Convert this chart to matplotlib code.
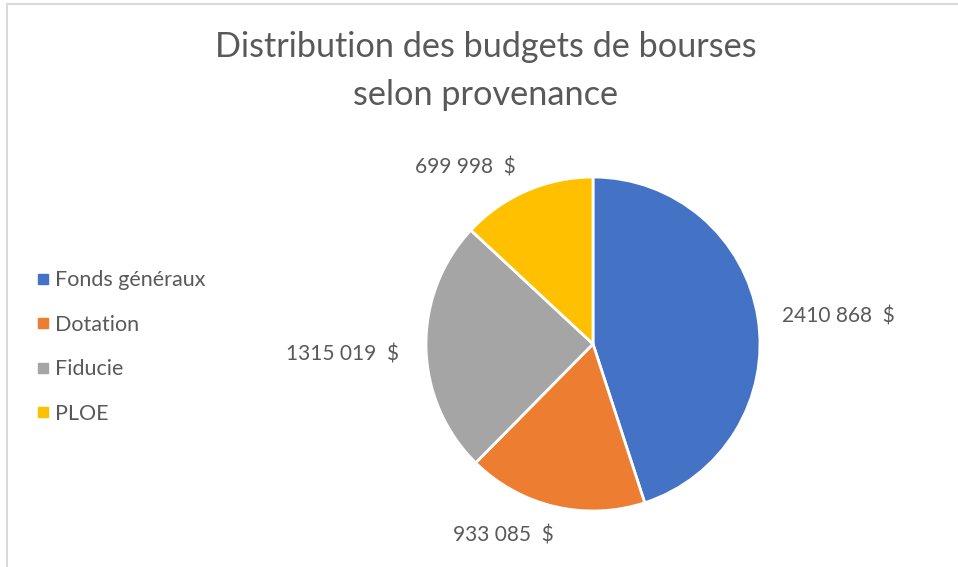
import matplotlib
matplotlib.use("Agg")
import matplotlib.pyplot as plt
from matplotlib.lines import Line2D
import numpy as np

categories = ["Fonds généraux", "Dotation", "Fiducie", "PLOE"]
values = [2410868, 933085, 1315019, 699998]
colors = ["#4472C4", "#ED7D31", "#A5A5A5", "#FFC000"]
title = "Distribution des budgets de bourses\nselon provenance"

def fmt(v):
    if v >= 1000:
        return f"{v // 1000} {v % 1000:03d}  $"
    return f"{v}  $"

plt.rcParams['font.family'] = ['Lato', 'DejaVu Sans']
text_color = "#595959"

W, H = 958, 567
fig = plt.figure(figsize=(W / 100, H / 100), dpi=100)

# border lines (light gray frame)
fig.add_artist(Line2D([6.5 / W, 6.5 / W], [0, 1 - 3.5 / H], transform=fig.transFigure, color="#D9D9D9", lw=1.5))
fig.add_artist(Line2D([6.5 / W, 1], [1 - 3.5 / H, 1 - 3.5 / H], transform=fig.transFigure, color="#D9D9D9", lw=1.5))

cx, cy, r = 593, 344, 167
ax = fig.add_axes([(cx - r) / W, (H - cy - r) / H, 2 * r / W, 2 * r / H])
wedges, _ = ax.pie(values, colors=colors, startangle=90, counterclock=False,
                   radius=1, wedgeprops=dict(edgecolor="white", linewidth=2))
ax.set_xlim(-1, 1)
ax.set_ylim(-1, 1)
ax.set_aspect("equal")
ax.axis("off")

dist = [1.48, 1.25, 1.50, 1.32]
ang_off = [-2, -12, 0.6, 12]
dy = -3.0 / r
for w, v, d, off in zip(wedges, values, dist, ang_off):
    mid = np.deg2rad((w.theta1 + w.theta2) / 2 + off)
    ax.text(d * np.cos(mid), d * np.sin(mid) + dy, fmt(v), ha="center", va="center",
            fontsize=15, color=text_color, clip_on=False)

fig.text(486 / W, 1 - 71 / H, title, ha="center", va="center", fontsize=24.7,
         color=text_color, linespacing=1.6)

handles = [Line2D([], [], marker="s", linestyle="none", markersize=6.5,
                  markerfacecolor=c, markeredgecolor=c) for c in colors]
fig.legend(handles, categories, loc="upper left", bbox_to_anchor=(15 / W, 1 - 251 / H),
           frameon=False, fontsize=15.5, labelcolor=text_color, labelspacing=1.14,
           handletextpad=0.15, handlelength=0.8)

fig.savefig("out.png", dpi=100)
